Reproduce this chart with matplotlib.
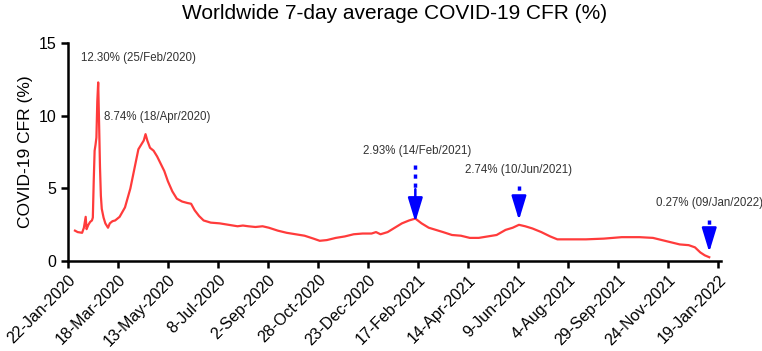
import numpy as np
import pandas as pd
import matplotlib
matplotlib.use("Agg")
import matplotlib.pyplot as plt

plt.rcParams['font.family'] = ['Liberation Sans', 'DejaVu Sans']

start = pd.Timestamp("2020-01-22")

# days since 22-Jan-2020 and the 7-day average CFR (%)
days = [8, 11, 16, 18, 20, 21, 23, 25, 27, 28, 29, 30, 31, 32, 33, 34, 35, 36, 37, 38,
        40, 42, 45, 47, 50, 53, 58, 64, 70, 75, 79, 82, 85, 87, 89, 92, 96, 100, 104,
        108, 112, 117, 122, 128, 134, 138, 142, 147, 152, 160, 170, 180, 190, 196, 202,
        210, 218, 225, 235, 245, 255, 265, 275, 282, 290, 300, 310, 320, 330, 340, 345,
        350, 358, 366, 374, 382, 389, 396, 404, 412, 420, 430, 440, 450, 460, 470, 480,
        490, 498, 505, 512, 520, 530, 540, 548, 560, 580, 600, 620, 640, 655, 665, 675,
        685, 695, 702, 708, 713, 718]
cfr = [2.1, 2.0, 1.95, 2.3, 3.05, 2.2, 2.5, 2.7, 2.8, 3.0, 5.5, 7.6, 8.0, 8.5, 11.0, 12.3,
       9.5, 6.5, 4.5, 3.6, 3.0, 2.6, 2.3, 2.6, 2.75, 2.8, 3.05, 3.7, 5.0, 6.5, 7.7, 8.0,
       8.3, 8.74, 8.3, 7.8, 7.6, 7.2, 6.7, 6.2, 5.5, 4.8, 4.3, 4.1, 4.0, 3.95, 3.5, 3.1,
       2.8, 2.65, 2.6, 2.5, 2.4, 2.45, 2.4, 2.35, 2.4, 2.3, 2.1, 1.95, 1.85, 1.75, 1.55,
       1.4, 1.45, 1.6, 1.7, 1.85, 1.9, 1.9, 2.0, 1.85, 2.0, 2.3, 2.6, 2.8, 2.93, 2.6, 2.3,
       2.15, 2.0, 1.8, 1.75, 1.6, 1.6, 1.7, 1.8, 2.15, 2.3, 2.5, 2.4, 2.25, 2.0, 1.7, 1.5,
       1.5, 1.5, 1.55, 1.65, 1.65, 1.6, 1.45, 1.3, 1.15, 1.1, 0.95, 0.6, 0.4, 0.27]

tick_labels = ["22-Jan-2020", "18-Mar-2020", "13-May-2020", "8-Jul-2020", "2-Sep-2020",
               "28-Oct-2020", "23-Dec-2020", "17-Feb-2021", "14-Apr-2021", "9-Jun-2021",
               "4-Aug-2021", "29-Sep-2021", "24-Nov-2021", "19-Jan-2022"]

# text annotations: label, day offset of text start, y value
notes = [("12.30% (25/Feb/2020)", 15, 14.0),
         ("8.74% (18/Apr/2020)", 41, 9.9),
         ("2.93% (14/Feb/2021)", 330, 7.6),
         ("2.74% (10/Jun/2021)", 445, 6.25),
         ("0.27% (09/Jan/2022)", 658, 4.0)]

# arrows: day offset, top of dashes, top of solid shaft, tip
arrows = [(389, 6.6, 4.95, 2.69),
          (505, 5.15, 4.47, 2.82),
          (718, 2.82, 2.27, 0.62)]

dates = [start + pd.Timedelta(days=d) for d in days]
ticks = [start + pd.Timedelta(days=56 * i) for i in range(len(tick_labels))]

fig = plt.figure(figsize=(7.62, 3.51), dpi=100)
ax = fig.add_axes([0.089, 0.256, 0.857, 0.621])

ax.plot(dates, cfr, color='#ff3b3b', lw=1.6)

for txt, d, y in notes:
    ax.text(start + pd.Timedelta(days=d), y, txt, fontsize=8.3, color='#333333',
            va='center', ha='left')

for d, y0, y1, y2 in arrows:
    xd = start + pd.Timedelta(days=d)
    ax.plot([xd, xd], [y0, y1], color='#0000ff', lw=2.5, dashes=(1.2, 1.4))
    ax.annotate("", xy=(xd, y2), xytext=(xd, y1),
                arrowprops=dict(arrowstyle='-|>,head_length=1.05,head_width=0.32',
                                color='#0000ff', lw=1.8, mutation_scale=14,
                                shrinkA=0, shrinkB=0))

ax.set_xlim(start, start + pd.Timedelta(days=731))
ax.set_ylim(0, 15)
ax.set_yticks([0, 5, 10, 15])
ax.set_xticks(ticks)
ax.set_xticklabels(tick_labels, rotation=45, ha='right', rotation_mode='anchor')
ax.tick_params(labelsize=11.5, width=1.8, length=5, colors='black')
ax.tick_params(axis='x', pad=3)
ax.set_ylabel("COVID-19 CFR (%)", fontsize=12.5)

for s in ['top', 'right']:
    ax.spines[s].set_visible(False)
for s in ['left', 'bottom']:
    ax.spines[s].set_linewidth(1.8)

fig.suptitle("Worldwide 7-day average COVID-19 CFR (%)", fontsize=15, x=0.518, y=0.99)

fig.savefig("out.png", dpi=100)
